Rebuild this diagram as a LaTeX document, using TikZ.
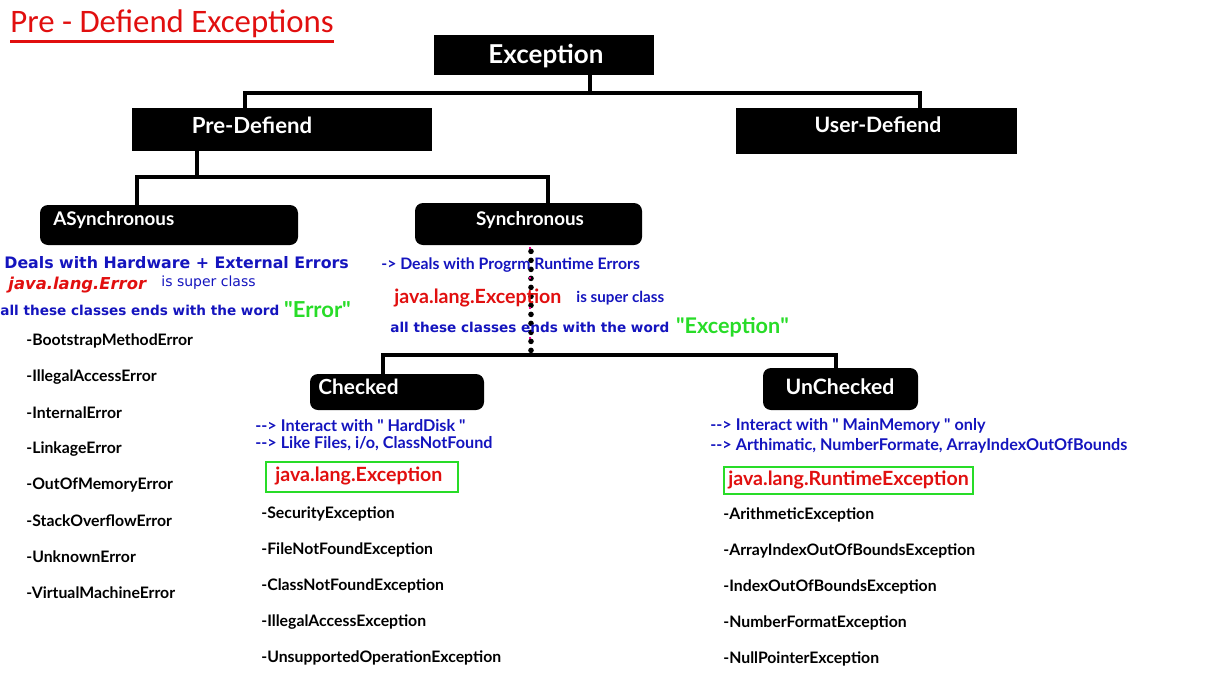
\documentclass[tikz,border=0pt]{standalone}
\usepackage{fontspec}
\setmainfont{Lato}
\newfontfamily\titlefont{Carlito}
\newfontfamily\widefont{DejaVu Sans}
\usepackage{tikz}
\definecolor{txtblue}{RGB}{20,20,190}
\definecolor{txtred}{RGB}{225,15,15}
\definecolor{txtgreen}{RGB}{40,220,40}

\begin{document}
\begin{tikzpicture}[x=0.5pt,y=-0.5pt,
  head node/.style={fill=black,text=white,font=\bfseries\fontsize{10}{12}\selectfont,inner sep=0pt},
  round node/.style={head node,rounded corners=4pt},
  conn/.style={line width=2pt},
  note/.style={anchor=west,inner sep=0pt,text=txtblue,font=\bfseries\fontsize{8.1}{10}\selectfont},
  wide note/.style={note,font=\widefont\bfseries\fontsize{6.8}{9}\selectfont},
  super/.style={anchor=west,inner sep=0pt,text=txtred,font=\bfseries\fontsize{9.8}{12}\selectfont},
  word/.style={anchor=west,inner sep=0pt,text=txtgreen,font=\bfseries\fontsize{10.8}{13}\selectfont},
  item/.style={anchor=west,inner sep=0pt,font=\fontsize{7.9}{9}\selectfont\bfseries}]
  \useasboundingbox (0,0) rectangle (1216,691);

  % title
  \node[anchor=west,inner sep=0pt,text=txtred,font=\titlefont\fontsize{16.4}{18}\selectfont] (title) at (10,24) {Pre - Defiend Exceptions};
  \draw[txtred,line width=1.1pt] ([yshift=-1.5pt]title.south west) -- ([yshift=-1.5pt]title.south east);

  % boxes
  \node[head node,minimum width=110pt,minimum height=20pt] (exc) at (544,55) {};
  \node[text=white,font=\bfseries\fontsize{13}{15}\selectfont] (excT) at (546,56) {Exception};
  \node[head node,minimum width=150pt,minimum height=21.5pt] (pre) at (282,129.5) {};
  \node[text=white,font=\bfseries\fontsize{11.1}{13}\selectfont] (preT) at (252,125) {Pre-Defiend};
  \node[head node,minimum width=140.5pt,minimum height=23pt] (usr) at (876.5,131) {};
  \node[text=white,font=\bfseries\fontsize{10.6}{12}\selectfont] (usrT) at (878,125) {User-Defiend};
  \node[round node,minimum width=129pt,minimum height=20pt] (asy) at (169,225) {};
  \node[anchor=west,text=white,inner sep=0pt,font=\bfseries\fontsize{9.4}{11}\selectfont] (asyT) at (53,220) {ASynchronous};
  \node[round node,minimum width=113.5pt,minimum height=21pt] (syn) at (528.5,224) {};
  \node[text=white,font=\bfseries\fontsize{9.4}{11}\selectfont] (synT) at (530,220) {Synchronous};
  \node[round node,minimum width=87pt,minimum height=18pt] (chk) at (397,392) {};
  \node[anchor=west,text=white,inner sep=0pt,font=\bfseries\fontsize{10.4}{12}\selectfont] (chkT) at (318,387) {Checked};
  \node[round node,minimum width=77.5pt,minimum height=21pt] (unc) at (840.5,389) {};
  \node[text=white,font=\bfseries\fontsize{10.6}{12}\selectfont] (uncT) at (840,387) {UnChecked};

  % connectors
  \coordinate (t1) at (590,93);
  \coordinate (pl) at (245,93);
  \coordinate (ul) at (920,93);
  \draw[conn] (exc.south -| t1) -- (t1);
  \draw[conn] (pre.north -| pl) -- (pl) -- (ul) -- (usr.north -| ul);
  \coordinate (t2) at (197,177);
  \coordinate (al) at (137,177);
  \coordinate (sl) at (548,177);
  \draw[conn] (pre.south -| t2) -- (t2);
  \draw[conn] (asy.north -| al) -- (al) -- (sl) -- (syn.north -| sl);
  \coordinate (t3) at (531,355);
  \coordinate (cl) at (383,355);
  \coordinate (kl) at (836,355);
  \draw[line width=2.8pt,line cap=round,dash pattern=on 0pt off 4.5pt] (syn.south -| t3) ++(0,6) -- (t3);
  \draw[magenta,line width=1pt,dash pattern=on 1pt off 14pt] (syn.south -| t3) ++(-1,2) -- ([xshift=-0.5pt]t3);
  \draw[conn] (chk.north -| cl) -- (cl) -- (kl) -- (unc.north -| kl);

  % asynchronous notes
  \node[wide note,font=\widefont\bfseries\fontsize{7.9}{9}\selectfont] (a1) at (4,263) {Deals with Hardware + External Errors};
  \node[super,font=\widefont\bfseries\itshape\fontsize{8.2}{10}\selectfont] (a2) at (8,285) {java.lang.Error};
  \node[note,font=\widefont\fontsize{7}{9}\selectfont] (a3) at (161,283) {is super class};
  \node[wide note] (a4) at (0,310) {all these classes ends with the word};
  \node[word,font=\bfseries\fontsize{11}{13}\selectfont] (a5) at (a4.east) [xshift=2pt] {\textquotedbl Error\textquotedbl};
  \foreach \name [count=\i from 0] in {BootstrapMethodError,IllegalAccessError,InternalError,LinkageError,OutOfMemoryError,StackOverflowError,UnknownError,VirtualMachineError}
    \node[item] (e\i) at (26,341+36*\i) {-\name};

  % synchronous notes
  \node[note,font=\bfseries\fontsize{7.9}{10}\selectfont] (s1) at (381,265) {-> Deals with Progrm Runtime Errors};
  \node[super] (s2) at (394,298) {java.lang.Exception};
  \node[note,font=\bfseries\fontsize{7.6}{10}\selectfont] (s3) at (576,298) {is super class};
  \node[wide note] (s4) at (390,327) {all these classes ends with the word};
  \node[word] (s5) at (s4.east) [xshift=3pt] {\textquotedbl Exception\textquotedbl};

  % checked
  \node[note] (c1) at (255,426) {-{}-> Interact with \textquotedbl\ HardDisk \textquotedbl};
  \node[note] (c2) at (255,444) {-{}-> Like Files, i/o, ClassNotFound};
  \node[draw=txtgreen,line width=1pt,minimum width=96pt,minimum height=15pt,inner sep=0pt] (cbox) at (362,477) {};
  \node[super] (c3) at (275,476) {java.lang.Exception};
  \foreach \name [count=\i from 0] in {SecurityException,FileNotFoundException,ClassNotFoundException,IllegalAccessException,UnsupportedOperationException}
    \node[item] (ce\i) at (261,514+36*\i) {-\name};

  % unchecked
  \node[note] (u1) at (710,426) {-{}-> Interact with \textquotedbl\ MainMemory \textquotedbl\ only};
  \node[note] (u2) at (710,446) {-{}-> Arthimatic, NumberFormate, ArrayIndexOutOfBounds};
  \node[draw=txtgreen,line width=1pt,minimum width=124.5pt,minimum height=13.5pt,inner sep=0pt] (ubox) at (848.5,480.5) {};
  \node[super] (u3) at (728,480) {java.lang.RuntimeException};
  \foreach \name [count=\i from 0] in {ArithmeticException,ArrayIndexOutOfBoundsException,IndexOutOfBoundsException,NumberFormatException,NullPointerException}
    \node[item] (ue\i) at (723,515+36*\i) {-\name};
\end{tikzpicture}
\end{document}
